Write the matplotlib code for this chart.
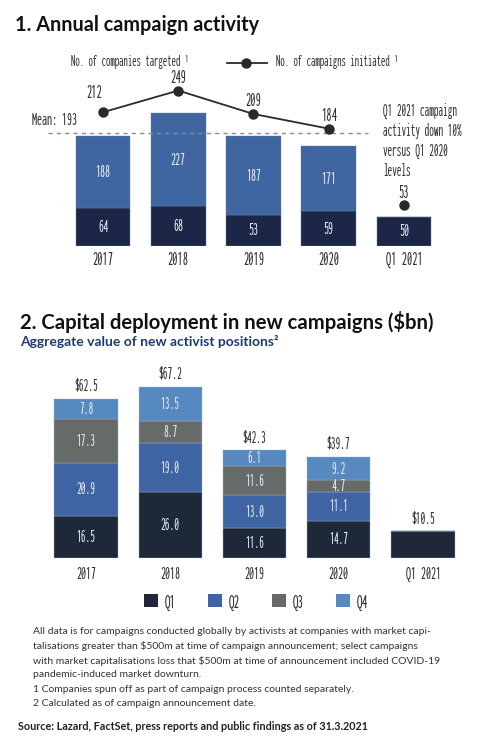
import matplotlib
matplotlib.use("Agg")
import matplotlib.pyplot as plt
from matplotlib import font_manager
from matplotlib.font_manager import FontProperties
from matplotlib.textpath import TextToPath
from matplotlib.lines import Line2D
from matplotlib.patches import Patch

W, H = 480, 746

# chart 1: annual campaign activity
years = ["2017", "2018", "2019", "2020", "Q1 2021"]
targeted_total = [188, 227, 187, 171, 50]
targeted_dark = [64, 68, 53, 59, 50]
campaigns = [212, 249, 209, 184, 53]
mean_targeted = 193

# chart 2: capital deployment ($bn)
cap_q1 = [16.5, 26.0, 11.6, 14.7, 10.5]
cap_q2 = [20.9, 19.0, 13.0, 11.1, 0]
cap_q3 = [17.3, 8.7, 11.6, 4.7, 0]
cap_q4 = [7.8, 13.5, 6.1, 9.2, 0]
quarters = ["Q1", "Q2", "Q3", "Q4"]

footnotes = [
    "All data is for campaigns conducted globally by activists at companies with market capi-",
    "talisations greater than $500m at time of campaign announcement; select campaigns",
    "with market capitalisations loss that $500m at time of announcement included COVID-19",
    "pandemic-induced market downturn.",
    "1 Companies spun off as part of campaign process counted separately.",
    "2 Calculated as of campaign announcement date.",
]
source = "Source: Lazard, FactSet, press reports and public findings as of 31.3.2021"

names = {f.name for f in font_manager.fontManager.ttflist}
MAIN = "Lato" if "Lato" in names else "DejaVu Sans"

# the chart labels use a condensed sans face: take the narrowest regular one installed
ttp = TextToPath()
SAMPLE = "activity down 10% 2017"


def text_w(s, prop):
    return ttp.get_text_width_height_descent(s, prop, ismath=False)[0]


cands = [FontProperties(family=MAIN)]
for f in font_manager.fontManager.ttflist:
    tag = (f.name + " " + f.fname).lower()
    if "serif" in tag or "mono" in tag or "code" in tag:
        continue
    if f.style == "normal" and f.weight in (400, "normal", "regular"):
        if "narrow" in tag or "condensed" in tag or "condensed" in str(f.stretch):
            cands.append(FontProperties(fname=f.fname))
best = min(cands, key=lambda p: text_w(SAMPLE, p))


def fit(s, target_px):
    # size the condensed font so that s spans about target_px pixels
    p = best.copy()
    p.set_size(10)
    w = text_w(s, p) * 100 / 72
    p.set_size(10 * target_px / w)
    return p


DARK1 = "#1c2747"
LIGHT1 = "#3f66a0"
C_Q = ["#1e2839", "#3e64a4", "#666b69", "#5589c0"]
TXT = "#333333"
INNER = "#e3e8f0"

f_tick = fit("2017", 21)
f_inner1 = fit("188", 15)
f_note = fit("activity down 10%", 78)
f_leg1 = fit("No. of companies targeted \u00b9", 117)
f_val2 = fit("16.5", 19)
f_tot2 = fit("$62.5", 24)
f_tick2 = fit("2017", 20)
f_leg2 = fit("Q1", 11)


def px(x, y):
    return x / W, 1 - y / H


fig = plt.figure(figsize=(W / 100, H / 100), dpi=100)
fig.patch.set_facecolor("white")

# ---------- chart 1 ----------
fig.text(*px(15, 25), "1. Annual campaign activity", fontsize=14.3, weight="bold",
         family=MAIN, va="center", color="#111111")

ax1 = fig.add_axes([42.8 / W, (H - 246) / H, (449.15 - 42.8) / W, 170 / H])
x = list(range(len(years)))
light = [t - d for t, d in zip(targeted_total, targeted_dark)]
ax1.bar(x, targeted_dark, width=0.73, color=DARK1, edgecolor="#6b7a9a", linewidth=0.3)
ax1.bar(x, light, bottom=targeted_dark, width=0.73, color=LIGHT1,
        edgecolor="#6b7a9a", linewidth=0.3)
for i in x:
    ax1.text(i, targeted_dark[i] / 2, str(targeted_dark[i]), ha="center", va="center",
             color=INNER, fontproperties=f_inner1)
    if light[i] > 0:
        ax1.text(i, targeted_dark[i] + light[i] / 2, str(targeted_total[i]), ha="center",
                 va="center", color=INNER, fontproperties=f_inner1)

ax1.hlines(mean_targeted, -0.73, 3.52, colors="#8a8a8a", linestyles=(0, (3, 3)), lw=1)
ax1.annotate(f"Mean: {mean_targeted}", (-0.35, mean_targeted), textcoords="offset points",
             xytext=(0, 9), ha="right", va="center", fontproperties=fit("Mean: 193", 45),
             color=TXT)

ax1.set_xlim(-0.8, 4.6)
ax1.set_ylim(0, 290)
ax1.set_xticks(x)
ax1.set_xticklabels(years, fontproperties=f_tick, color=TXT)
ax1.tick_params(axis="x", length=0, pad=3.5)
ax1.set_yticks([])
for s in ax1.spines.values():
    s.set_visible(False)

ax1b = ax1.twinx()
ax1b.set_ylim(-16.2, 273.8)
ax1b.plot(x[:4], campaigns[:4], color="#2a2a2a", lw=1.3, marker="o", ms=6.5)
ax1b.plot(x[4], campaigns[4], color="#2a2a2a", marker="o", ms=6.5)
for i in x:
    off = (-6.5, 14) if i == 0 else (0, 9)
    ax1b.annotate(str(campaigns[i]), (i, campaigns[i]), textcoords="offset points",
                  xytext=off, ha="center", va="center", fontproperties=f_tick, color=TXT)
ax1b.set_yticks([])
for s in ax1b.spines.values():
    s.set_visible(False)

fig.text(*px(383, 103),
         "Q1 2021 campaign\nactivity down 10%\nversus Q1 2020\nlevels",
         va="top", ha="left", fontproperties=f_note, color=TXT, linespacing=1.3)

# legend for chart 1
fig.text(*px(71, 62), "No. of companies targeted \u00b9", va="center",
         fontproperties=f_leg1, color=TXT)
fig.add_artist(Line2D([227 / W, 267 / W], [1 - 63 / H] * 2, color="#2a2a2a", lw=1.3))
fig.add_artist(Line2D([246 / W], [1 - 63 / H], color="#2a2a2a", marker="o", ms=6.5))
fig.text(*px(276, 62), "No. of campaigns initiated \u00b9", va="center",
         fontproperties=f_leg1, color=TXT)

# ---------- chart 2 ----------
fig.text(*px(20, 322), "2. Capital deployment in new campaigns ($bn)", fontsize=14.6,
         weight="bold", family=MAIN, va="center", color="#111111")
fig.text(*px(20, 342), "Aggregate value of new activist positions\u00b2", fontsize=10,
         weight="bold", family=MAIN, va="center", color="#1f3a6e")

ax2 = fig.add_axes([35.5 / W, (H - 558) / H, (473.6 - 35.5) / W, 75 * 2.545 / H])
series = [cap_q1, cap_q2, cap_q3, cap_q4]
bottoms = [0.0] * len(years)
for k, vals in enumerate(series):
    ax2.bar(x, vals, bottom=bottoms, width=0.75, color=C_Q[k], edgecolor="#9fb0c8",
            linewidth=0.3, label=quarters[k])
    for i in x:
        n_seg = sum(1 for s in series if s[i] > 0)
        if vals[i] > 0 and n_seg > 1:
            ax2.text(i, bottoms[i] + vals[i] / 2, f"{vals[i]:.1f}", ha="center", va="center",
                     color=INNER, fontproperties=f_val2)
    bottoms = [b + v for b, v in zip(bottoms, vals)]

for i in x:
    ax2.annotate(f"${bottoms[i]:.1f}", (i, bottoms[i]), textcoords="offset points",
                 xytext=(0, 9.5), ha="center", va="center", fontproperties=f_tot2,
                 color=TXT)

ax2.set_xlim(-0.6, 4.6)
ax2.set_ylim(0, 75)
ax2.set_xticks(x)
ax2.set_xticklabels(years, fontproperties=f_tick2, color=TXT)
ax2.tick_params(axis="x", length=0, pad=6)
ax2.set_yticks([])
for s in ax2.spines.values():
    s.set_visible(False)

fpx = f_leg2.get_size() * 100 / 72
handles = [Patch(facecolor=C_Q[k], label=quarters[k]) for k in range(4)]
fig.legend(handles=handles, loc="center", bbox_to_anchor=px(256, 603), ncol=4,
           frameon=False, handlelength=14 / fpx, handleheight=11 / fpx,
           handletextpad=7 / fpx, columnspacing=32 / fpx, borderpad=0,
           prop=f_leg2, labelcolor=TXT)

# ---------- footnotes ----------
for j, line in enumerate(footnotes):
    fig.text(*px(33, 632 + j * 14.3), line, va="center", fontsize=7.5, family=MAIN,
             color=TXT)
fig.text(*px(18, 726), source, va="center", fontsize=7.75, weight="bold", family=MAIN,
         color="#222222")

fig.savefig("out.png", dpi=100)
